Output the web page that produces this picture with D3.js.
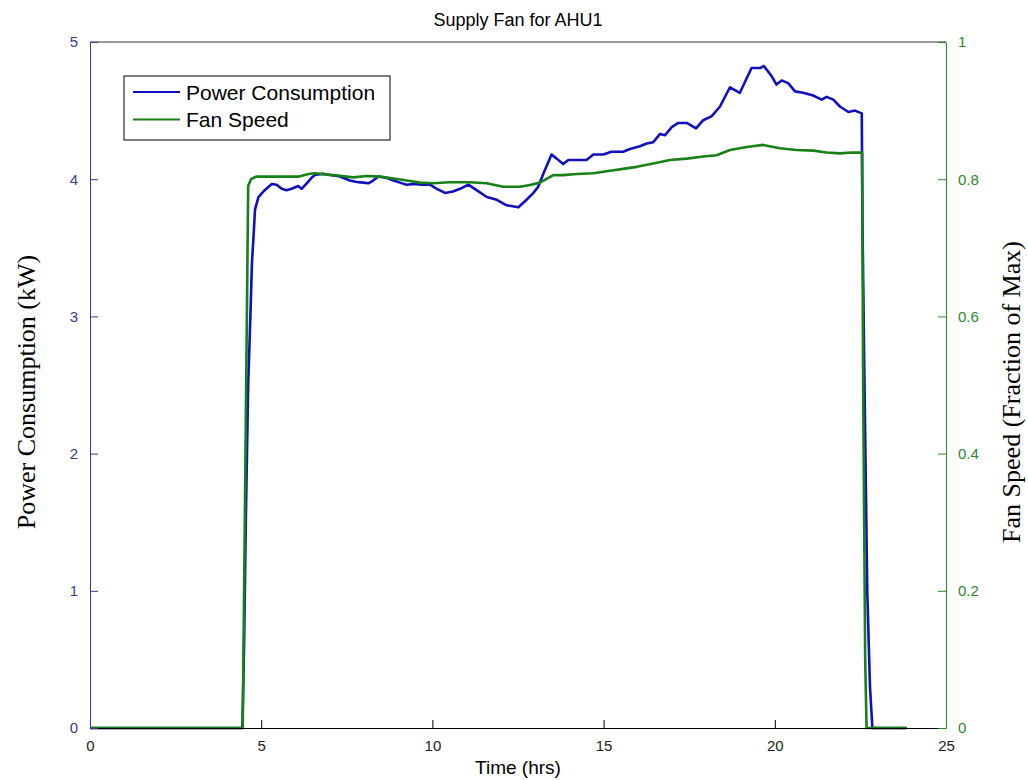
<!DOCTYPE html>
<html>
<head>
<meta charset="utf-8">
<script src="https://cdn.jsdelivr.net/npm/d3@7"></script>
<style>
  html, body { margin: 0; padding: 0; background: #fff; }
  svg { display: block; }
</style>
</head>
<body>
<svg id="chart" width="1028" height="780"></svg>
<script>
// ---- Data ----
const powerTime = [0, 4.45, 4.50, 4.55, 4.62, 4.68, 4.73, 4.77, 4.82, 4.92, 5.1, 5.31, 5.45, 5.60, 5.74, 5.89, 6.08, 6.18, 6.33, 6.47, 6.57, 6.81, 7.01, 7.30, 7.59, 7.79, 7.98, 8.13, 8.27, 8.42, 8.66, 8.86, 9.05, 9.25, 9.44, 9.69, 9.93, 10.13, 10.37, 10.6, 10.81, 11.05, 11.29, 11.59, 11.88, 12.17, 12.51, 12.75, 12.95, 13.09, 13.24, 13.48, 13.63, 13.82, 13.97, 14.50, 14.70, 14.99, 15.23, 15.57, 15.77, 16.06, 16.26, 16.45, 16.65, 16.79, 16.99, 17.18, 17.43, 17.70, 17.91, 18.16, 18.40, 18.69, 18.98, 19.32, 19.57, 19.68, 19.91, 20.05, 20.20, 20.39, 20.59, 20.83, 21.12, 21.37, 21.51, 21.71, 21.90, 22.15, 22.34, 22.54, 22.56, 22.62, 22.70, 22.78, 22.85, 23.85];
const powerKW = [0, 0, 0.6, 1.5, 2.5, 2.97, 3.39, 3.56, 3.78, 3.87, 3.92, 3.965, 3.96, 3.93, 3.92, 3.93, 3.95, 3.93, 3.97, 4.01, 4.03, 4.04, 4.03, 4.02, 3.99, 3.98, 3.975, 3.97, 3.99, 4.02, 4.01, 3.99, 3.975, 3.96, 3.965, 3.96, 3.96, 3.93, 3.90, 3.91, 3.93, 3.96, 3.92, 3.87, 3.85, 3.81, 3.795, 3.85, 3.90, 3.945, 4.04, 4.18, 4.15, 4.11, 4.14, 4.14, 4.18, 4.18, 4.20, 4.20, 4.22, 4.24, 4.26, 4.27, 4.33, 4.32, 4.38, 4.41, 4.41, 4.37, 4.43, 4.46, 4.53, 4.67, 4.63, 4.81, 4.81, 4.825, 4.75, 4.69, 4.72, 4.70, 4.64, 4.63, 4.61, 4.58, 4.60, 4.58, 4.53, 4.49, 4.50, 4.48, 3.7, 2.5, 1.0, 0.3, 0, 0];

const fanTime = [0, 4.46, 4.62, 4.70, 4.85, 5.5, 6.08, 6.38, 6.57, 6.86, 7.30, 7.69, 8.08, 8.47, 8.86, 9.25, 9.64, 10.02, 10.5, 11.1, 11.58, 12.07, 12.56, 12.85, 13.14, 13.53, 13.82, 14.21, 14.70, 15.19, 15.57, 15.97, 16.45, 16.94, 17.43, 17.91, 18.30, 18.69, 19.18, 19.66, 20.15, 20.64, 21.13, 21.51, 21.90, 22.25, 22.55, 22.58, 22.64, 22.68, 23.85];
const fanSpeed = [0, 0, 0.79, 0.800, 0.8037, 0.8037, 0.8037, 0.8076, 0.8086, 0.807, 0.805, 0.8027, 0.8047, 0.8037, 0.801, 0.798, 0.795, 0.794, 0.7955, 0.7955, 0.794, 0.789, 0.789, 0.7915, 0.795, 0.806, 0.806, 0.8076, 0.8086, 0.8124, 0.815, 0.818, 0.823, 0.828, 0.830, 0.833, 0.835, 0.8426, 0.847, 0.85, 0.845, 0.8426, 0.8416, 0.839, 0.8377, 0.839, 0.8387, 0.5, 0.1, 0, 0];

const xTicks = [0, 5, 10, 15, 20, 25];
const leftTicks = [0, 1, 2, 3, 4, 5];
const rightTicks = [0, 0.2, 0.4, 0.6, 0.8, 1];
const legendLabels = ["Power Consumption", "Fan Speed"];
const titleText = "Supply Fan for AHU1";
const xLabelText = "Time (hrs)";
const leftLabelText = "Power Consumption (kW)";
const rightLabelText = "Fan Speed (Fraction of Max)";

// ---- Layout ----
const L = 90, R = 946, T = 42, B = 728;
const blue = "#1010c0", green = "#178017";
const leftAxisColor = "#3a3a96", rightAxisColor = "#2a8a2a";

const svg = d3.select("#chart");
const x = d3.scaleLinear().domain([0, 25]).range([L, R]);
const yL = d3.scaleLinear().domain([0, 5]).range([B, T]);
const yR = d3.scaleLinear().domain([0, 1]).range([B, T]);

const font = "Arial, 'Liberation Sans', Helvetica, sans-serif";
const serif = "'Times New Roman', 'Liberation Serif', Times, serif";

// frame top
svg.append("line").attr("x1", L).attr("x2", R).attr("y1", T).attr("y2", T)
  .attr("stroke", "#333").attr("stroke-width", 1);

// lines
const powerData = powerTime.map((t, i) => [t, powerKW[i]]);
const fanData = fanTime.map((t, i) => [t, fanSpeed[i]]);

svg.append("path").datum(powerData)
  .attr("fill", "none").attr("stroke", blue).attr("stroke-width", 2.6)
  .attr("stroke-linejoin", "round")
  .attr("d", d3.line().x(d => x(d[0])).y(d => yL(d[1])));

svg.append("path").datum(fanData)
  .attr("fill", "none").attr("stroke", green).attr("stroke-width", 2.6)
  .attr("stroke-linejoin", "round")
  .attr("d", d3.line().x(d => x(d[0])).y(d => yR(d[1])));

// bottom axis
const gx = svg.append("g").attr("transform", `translate(0,${B})`)
  .call(d3.axisBottom(x).tickValues(xTicks).tickFormat(d3.format("d")).tickSizeInner(-8).tickSizeOuter(0).tickPadding(12));
gx.select(".domain").attr("stroke", "#000");
gx.selectAll(".tick line").attr("stroke", "#000");
gx.selectAll(".tick text").attr("fill", "#222").style("font-family", font).style("font-size", "15px");

// left axis
const gl = svg.append("g").attr("transform", `translate(${L},0)`)
  .call(d3.axisLeft(yL).tickValues(leftTicks).tickFormat(d3.format("d")).tickSizeInner(-8).tickSizeOuter(0).tickPadding(12));
gl.select(".domain").attr("stroke", leftAxisColor);
gl.selectAll(".tick line").attr("stroke", leftAxisColor);
gl.selectAll(".tick text").attr("fill", leftAxisColor).style("font-family", font).style("font-size", "15px");

// right axis
const gr = svg.append("g").attr("transform", `translate(${R},0)`)
  .call(d3.axisRight(yR).tickValues(rightTicks).tickFormat(d => d === 0 || d === 1 ? d3.format("d")(d) : d3.format(".1f")(d)).tickSizeInner(-8).tickSizeOuter(0).tickPadding(12));
gr.select(".domain").attr("stroke", rightAxisColor);
gr.selectAll(".tick line").attr("stroke", rightAxisColor);
gr.selectAll(".tick text").attr("fill", rightAxisColor).style("font-family", font).style("font-size", "15px");

// title & labels
svg.append("text").attr("x", (L + R) / 2).attr("y", 26).attr("text-anchor", "middle")
  .style("font-family", font).style("font-size", "18px").attr("fill", "#000").text(titleText);
svg.append("text").attr("x", (L + R) / 2).attr("y", 774).attr("text-anchor", "middle")
  .style("font-family", font).style("font-size", "19px").attr("fill", "#000").text(xLabelText);
svg.append("text").attr("transform", `translate(35,${(T + B) / 2 + 7}) rotate(-90)`).attr("text-anchor", "middle")
  .style("font-family", serif).style("font-size", "26px").attr("fill", "#000").text(leftLabelText);
svg.append("text").attr("transform", `translate(1020,${(T + B) / 2 + 7}) rotate(-90)`).attr("text-anchor", "middle")
  .style("font-family", serif).style("font-size", "26px").attr("fill", "#000").text(rightLabelText);

// legend
const lg = svg.append("g");
lg.append("rect").attr("x", 124).attr("y", 76).attr("width", 266).attr("height", 64)
  .attr("fill", "#fff").attr("stroke", "#000").attr("stroke-width", 1);
const legendColors = [blue, green];
legendLabels.forEach((lab, i) => {
  const yy = 92 + i * 27.5;
  lg.append("line").attr("x1", 133).attr("x2", 180).attr("y1", yy).attr("y2", yy)
    .attr("stroke", legendColors[i]).attr("stroke-width", 2);
  lg.append("text").attr("x", 186).attr("y", yy + 7.5)
    .style("font-family", font).style("font-size", "21px").attr("fill", "#000").text(lab);
});
</script>
</body>
</html>
